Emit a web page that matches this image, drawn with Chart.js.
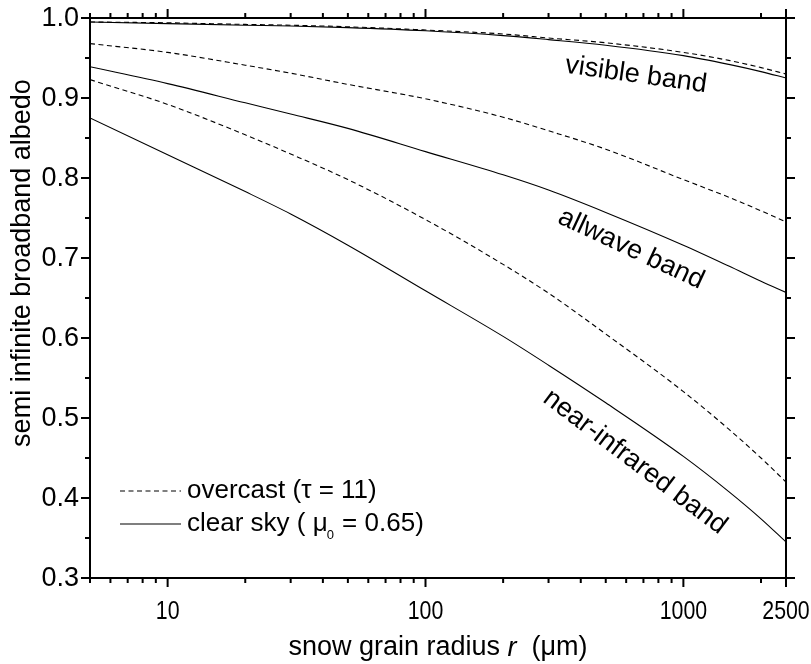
<!DOCTYPE html>
<html>
<head>
<meta charset="utf-8">
<title>Semi infinite broadband albedo</title>
<script src="https://cdn.jsdelivr.net/npm/chart.js@4.4.1/dist/chart.umd.min.js"></script>
<style>
  html, body { margin: 0; padding: 0; background: #fff; }
  #chart { display: block; }
</style>
</head>
<body>
<canvas id="chart" width="811" height="664"></canvas>
<script>
// snow grain radius in µm
var radius = [5, 10, 20, 30, 50, 100, 200, 300, 500, 1000, 1500, 2000, 2500];

// albedo per band, clear sky (mu0 = 0.65) and overcast (tau = 11)
var visibleClear    = [0.995, 0.993, 0.991, 0.990, 0.988, 0.984, 0.978, 0.973, 0.966, 0.953, 0.942, 0.933, 0.925];
var visibleOvercast = [0.995, 0.994, 0.992, 0.991, 0.989, 0.985, 0.980, 0.975, 0.969, 0.957, 0.947, 0.938, 0.930];
var allwaveClear    = [0.939, 0.918, 0.894, 0.880, 0.862, 0.833, 0.804, 0.785, 0.757, 0.716, 0.690, 0.671, 0.657];
var allwaveOvercast = [0.968, 0.957, 0.941, 0.931, 0.917, 0.899, 0.876, 0.859, 0.836, 0.798, 0.776, 0.759, 0.745];
var nearIrClear     = [0.875, 0.829, 0.783, 0.755, 0.716, 0.659, 0.602, 0.566, 0.519, 0.452, 0.408, 0.374, 0.345];
var nearIrOvercast  = [0.923, 0.892, 0.854, 0.830, 0.798, 0.748, 0.692, 0.656, 0.605, 0.533, 0.486, 0.450, 0.420];

// axis ticks
var xMajorTicks = [10, 100, 1000, 2500];
var xMinorTicks = [5, 6, 7, 8, 9, 20, 30, 40, 50, 60, 70, 80, 90,
                   200, 300, 400, 500, 600, 700, 800, 900, 2000];
var yMajorTicks = [0.3, 0.4, 0.5, 0.6, 0.7, 0.8, 0.9, 1.0];
var yMinorTicks = [0.35, 0.45, 0.55, 0.65, 0.75, 0.85, 0.95];

var FONT = '"Liberation Sans", Arial, Helvetica, sans-serif';
var DASH = [5, 3.5];

function series(values) {
    return values.map(function (v, i) { return { x: radius[i], y: v }; });
}

function line(values, dashed) {
    return {
        data: series(values),
        borderColor: '#000',
        borderWidth: 1.1,
        borderDash: dashed ? DASH : [],
        pointRadius: 0,
        fill: false,
        cubicInterpolationMode: 'monotone'
    };
}

// frame, outward ticks on all four sides, labels and annotations
var decorPlugin = {
    id: 'decor',
    afterDatasetsDraw: function (chart) {
        var ctx = chart.ctx;
        var a = chart.chartArea;
        var xs = chart.scales.x;
        var ys = chart.scales.y;
        var MAJOR = 9, MINOR = 5;

        ctx.save();
        ctx.strokeStyle = '#000';
        ctx.fillStyle = '#000';
        ctx.lineWidth = 2;
        ctx.setLineDash([]);
        ctx.strokeRect(a.left, a.top, a.right - a.left, a.bottom - a.top);

        function xTick(v, len) {
            var px = xs.getPixelForValue(v);
            ctx.beginPath();
            ctx.moveTo(px, a.bottom); ctx.lineTo(px, a.bottom + len);
            ctx.moveTo(px, a.top); ctx.lineTo(px, a.top - len);
            ctx.stroke();
        }
        function yTick(v, len) {
            var py = ys.getPixelForValue(v);
            ctx.beginPath();
            ctx.moveTo(a.left, py); ctx.lineTo(a.left - len, py);
            ctx.moveTo(a.right, py); ctx.lineTo(a.right + len, py);
            ctx.stroke();
        }
        xMajorTicks.forEach(function (v) { xTick(v, MAJOR); });
        xMinorTicks.forEach(function (v) { xTick(v, MINOR); });
        yMajorTicks.forEach(function (v) { yTick(v, MAJOR); });
        yMinorTicks.forEach(function (v) { yTick(v, MINOR); });

        // x tick labels are set in a condensed face
        ctx.font = '26px ' + FONT;
        ctx.textAlign = 'center';
        ctx.textBaseline = 'middle';
        xMajorTicks.forEach(function (v) {
            ctx.save();
            ctx.translate(xs.getPixelForValue(v), a.bottom + 34);
            ctx.scale(0.82, 1);
            ctx.fillText(String(v), 0, 0);
            ctx.restore();
        });
        ctx.font = '27px ' + FONT;
        ctx.textAlign = 'right';
        yMajorTicks.forEach(function (v) {
            ctx.fillText(v.toFixed(1), a.left - 11, ys.getPixelForValue(v) + 1);
        });

        // x axis title, with italic r
        var t1 = 'snow grain radius ', t2 = 'r', t3 = '  (\u03bcm)';
        ctx.font = '27px ' + FONT;
        var w1 = ctx.measureText(t1).width, w3 = ctx.measureText(t3).width;
        ctx.font = 'italic 27px ' + FONT;
        var w2 = ctx.measureText(t2).width;
        var x0 = (a.left + a.right) / 2 - (w1 + w2 + w3) / 2;
        var ty = 648;
        ctx.textAlign = 'left';
        ctx.font = '27px ' + FONT;
        ctx.fillText(t1, x0, ty);
        ctx.font = 'italic 27px ' + FONT;
        ctx.fillText(t2, x0 + w1, ty);
        ctx.font = '27px ' + FONT;
        ctx.fillText(t3, x0 + w1 + w2, ty);

        // y axis title
        ctx.save();
        ctx.translate(23, 263);
        ctx.rotate(-Math.PI / 2);
        ctx.textAlign = 'center';
        ctx.fillText('semi infinite broadband albedo', 0, 0);
        ctx.restore();

        // band names along the curves
        function bandLabel(text, x, y, deg) {
            ctx.save();
            ctx.translate(x, y);
            ctx.rotate(deg * Math.PI / 180);
            ctx.textAlign = 'center';
            ctx.fillText(text, 0, 0);
            ctx.restore();
        }
        ctx.font = '27px ' + FONT;
        bandLabel('visible band', 636, 75, 8);
        bandLabel('allwave band', 631, 249, 25);
        bandLabel('near-infrared band', 635, 462, 37);

        // legend
        ctx.lineWidth = 1.1;
        ctx.setLineDash(DASH);
        ctx.beginPath();
        ctx.moveTo(120, 491); ctx.lineTo(181, 491);
        ctx.stroke();
        ctx.setLineDash([]);
        ctx.beginPath();
        ctx.moveTo(120, 524); ctx.lineTo(181, 524);
        ctx.stroke();

        ctx.textAlign = 'left';
        ctx.font = '26px ' + FONT;
        ctx.fillText('overcast (\u03c4 = 11)', 187, 491);
        var c1 = 'clear sky ( \u03bc';
        ctx.fillText(c1, 187, 524);
        var cx = 187 + ctx.measureText(c1).width;
        ctx.font = '13px ' + FONT;
        ctx.fillText('0', cx - 1, 535);
        var sw = ctx.measureText('0').width;
        ctx.font = '26px ' + FONT;
        ctx.fillText(' = 0.65)', cx + sw, 524);

        ctx.restore();
    }
};

document.addEventListener('DOMContentLoaded', function () {
    var ctx = document.getElementById('chart').getContext('2d');
    new Chart(ctx, {
        type: 'line',
        data: {
            datasets: [
                line(visibleOvercast, true),
                line(visibleClear, false),
                line(allwaveOvercast, true),
                line(allwaveClear, false),
                line(nearIrOvercast, true),
                line(nearIrClear, false)
            ]
        },
        options: {
            responsive: false,
            animation: false,
            layout: { padding: { left: 90, top: 18, right: 25, bottom: 86 } },
            plugins: {
                legend: { display: false },
                tooltip: { enabled: false }
            },
            scales: {
                x: { type: 'logarithmic', min: 5, max: 2500, display: false },
                y: { type: 'linear', min: 0.3, max: 1.0, display: false }
            }
        },
        plugins: [decorPlugin]
    });
});
</script>
</body>
</html>
